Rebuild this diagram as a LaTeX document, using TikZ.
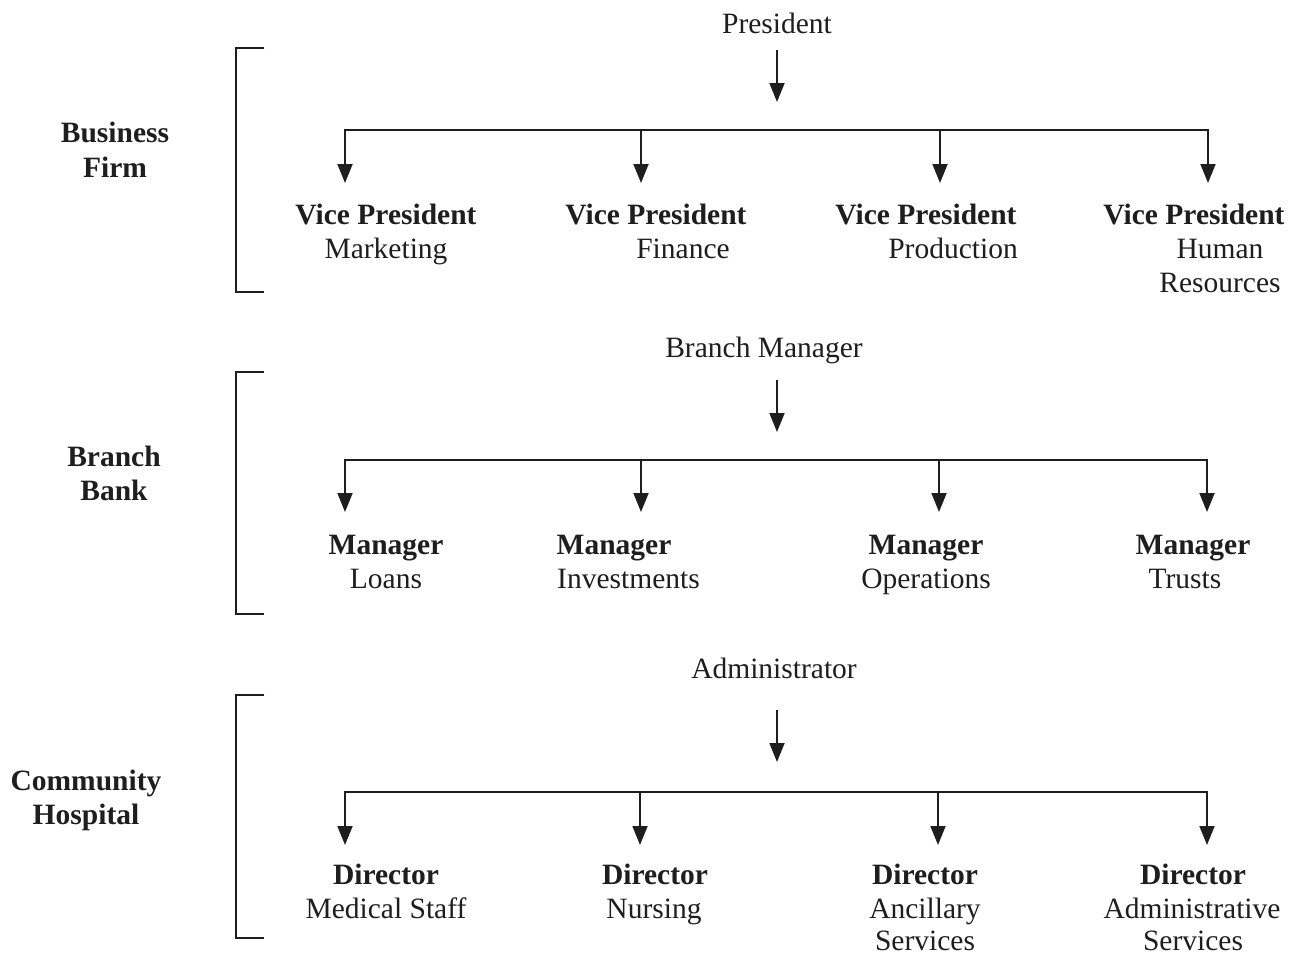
\documentclass[tikz,border=0pt]{standalone}
\usepackage{fontspec}
\setmainfont{Liberation Serif}
\usetikzlibrary{arrows.meta}
\definecolor{ink}{HTML}{1E1E1E}
\begin{document}
\begin{tikzpicture}[x=1pt,y=-1pt,
  txt/.style={font=\fontsize{29.5}{34}\selectfont, text=ink, inner sep=0pt, anchor=base},
  ttl/.style={txt, font=\fontsize{29.5}{34}\selectfont\bfseries},
  link/.style={draw=ink, line width=1.8pt, -{Triangle[width=15pt,length=19pt]}},
  tree/.style={draw=ink, line width=1.8pt, {Triangle[width=15pt,length=19pt]}-{Triangle[width=15pt,length=19pt]}},
  brk/.style={draw=ink, line width=1.8pt},
]
\useasboundingbox (0,0) rectangle (1296,956);

% ---------- Business firm ----------
\node[ttl] (bf1) at (115,142) {Business};
\node[ttl] (bf2) at (115,177) {Firm};
\draw[brk] (264,48) -- (236,48) -- (236,292) -- (264,292);

\node[txt] (pres) at (777,33) {President};
\coordinate (pres-in) at (777,102);
\draw[link, shorten <=17pt] (pres.south) -- (pres-in);

\coordinate (a1) at (345,130); \coordinate (a2) at (641,130);
\coordinate (a3) at (940,130); \coordinate (a4) at (1208,130);
\coordinate (at1) at (345,183); \coordinate (at2) at (641,183);
\coordinate (at3) at (940,183); \coordinate (at4) at (1208,183);
\draw[tree] (at1) -- (a1) -- (a4) -- (at4);
\draw[link] (a2) -- (at2);
\draw[link] (a3) -- (at3);

\node[ttl] (vp1) at (386,224) {Vice President};
\node[txt] (vp1a) at (386,258) {Marketing};
\node[ttl] (vp2) at (656,224) {Vice President};
\node[txt] (vp2a) at (683,258) {Finance};
\node[ttl] (vp3) at (926,224) {Vice President};
\node[txt, anchor=base east] (vp3a) at (1018,258) {Production};
\node[ttl] (vp4) at (1194,224) {Vice President};
\node[txt] (vp4a) at (1220,258) {Human};
\node[txt] (vp4b) at (1220,292) {Resources};

% ---------- Branch bank ----------
\node[ttl] (bb1) at (114,466) {Branch};
\node[ttl] (bb2) at (114,500) {Bank};
\draw[brk] (264,372) -- (236,372) -- (236,614) -- (264,614);

\node[txt] (bm) at (764,357) {Branch Manager};
\coordinate (bm-out) at (777,380);
\coordinate (bm-in) at (777,432);
\draw[link] (bm-out) -- (bm-in);

\coordinate (b1) at (345,460); \coordinate (b2) at (641,460);
\coordinate (b3) at (939,460); \coordinate (b4) at (1207,460);
\coordinate (bt1) at (345,512); \coordinate (bt2) at (641,512);
\coordinate (bt3) at (939,512); \coordinate (bt4) at (1207,512);
\draw[tree] (bt1) -- (b1) -- (b4) -- (bt4);
\draw[link] (b2) -- (bt2);
\draw[link] (b3) -- (bt3);

\node[ttl] (m1) at (386,554) {Manager};
\node[txt] (m1a) at (386,588) {Loans};
\node[ttl] (m2) at (614,554) {Manager};
\node[txt, anchor=base west] (m2a) at (557,588) {Investments};
\node[ttl] (m3) at (926,554) {Manager};
\node[txt] (m3a) at (926,588) {Operations};
\node[ttl] (m4) at (1193,554) {Manager};
\node[txt] (m4a) at (1185,588) {Trusts};

% ---------- Community hospital ----------
\node[ttl] (ch1) at (86,790) {Community};
\node[ttl] (ch2) at (86,824) {Hospital};
\draw[brk] (264,695) -- (236,695) -- (236,938) -- (264,938);

\node[txt] (adm) at (774,678) {Administrator};
\coordinate (adm-out) at (777,710);
\coordinate (adm-in) at (777,762);
\draw[link] (adm-out) -- (adm-in);

\coordinate (c1) at (345,792); \coordinate (c2) at (640,792);
\coordinate (c3) at (938,792); \coordinate (c4) at (1207,792);
\coordinate (ct1) at (345,845); \coordinate (ct2) at (640,845);
\coordinate (ct3) at (938,845); \coordinate (ct4) at (1207,845);
\draw[tree] (ct1) -- (c1) -- (c4) -- (ct4);
\draw[link] (c2) -- (ct2);
\draw[link] (c3) -- (ct3);

\node[ttl] (d1) at (386,884) {Director};
\node[txt] (d1a) at (386,918) {Medical Staff};
\node[ttl] (d2) at (655,884) {Director};
\node[txt] (d2a) at (654,918) {Nursing};
\node[ttl] (d3) at (925,884) {Director};
\node[txt] (d3a) at (925,918) {Ancillary};
\node[txt] (d3b) at (925,950) {Services};
\node[ttl] (d4) at (1193,884) {Director};
\node[txt] (d4a) at (1192,918) {Administrative};
\node[txt] (d4b) at (1193,950) {Services};
\end{tikzpicture}
\end{document}
